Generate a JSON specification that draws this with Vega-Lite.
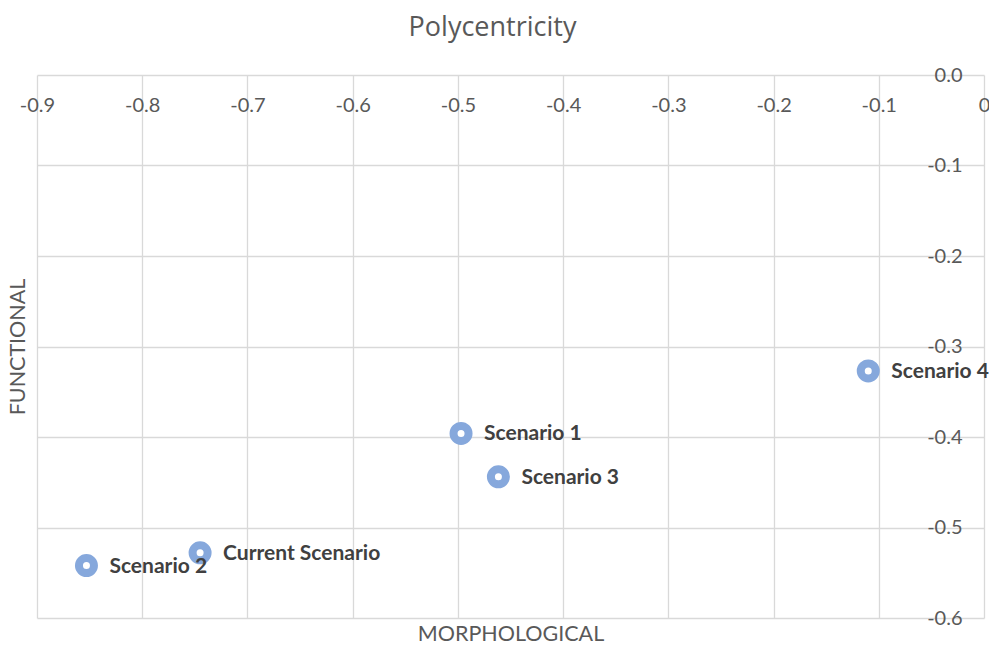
{
  "$schema": "https://vega.github.io/schema/vega-lite/v6.json",
  "autosize": {"type": "none"},
  "padding": {"left": 37, "top": 75, "right": 5, "bottom": 28},
  "width": 947,
  "height": 543,
  "background": "white",
  "config": {
    "view": {"stroke": null},
    "font": "Lato"
  },
  "title": {
    "text": "Polycentricity",
    "anchor": "middle",
    "dx": -18,
    "offset": 23,
    "fontSize": 27,
    "font": "Open Sans",
    "fontWeight": "normal",
    "color": "#595959"
  },
  "data": {
    "values": [
      {"name": "Current Scenario", "morph": -0.745, "func": -0.528},
      {"name": "Scenario 1", "morph": -0.497, "func": -0.396},
      {"name": "Scenario 2", "morph": -0.853, "func": -0.542},
      {"name": "Scenario 3", "morph": -0.4615, "func": -0.444},
      {"name": "Scenario 4", "morph": -0.110, "func": -0.327}
    ]
  },
  "layer": [
    {
      "mark": {"type": "point", "filled": false, "fill": "white", "fillOpacity": 1, "stroke": "#86a8dc", "strokeWidth": 8, "size": 225, "opacity": 1},
      "encoding": {
        "x": {
          "field": "morph", "type": "quantitative",
          "scale": {"domain": [-0.9, 0], "nice": false, "zero": false},
          "axis": {
            "orient": "bottom", "offset": -543, "grid": false, "domain": false, "ticks": false,
            "title": null, "values": [-0.9, -0.8, -0.7, -0.6, -0.5, -0.4, -0.3, -0.2, -0.1, 0],
            "labelExpr": "datum.value == 0 ? '0' : replace(format(datum.value, '.1f'), '\u2212', '-')",
            "labelPadding": 20, "labelFontSize": 20, "labelColor": "#595959", "labelFont": "Lato",
            "labelFlush": false, "labelOverlap": false
          }
        },
        "y": {
          "field": "func", "type": "quantitative",
          "scale": {"domain": [-0.6, 0], "nice": false, "zero": false},
          "axis": {
            "orient": "left", "offset": -947, "grid": false, "domain": false, "ticks": false,
            "title": null, "values": [-0.6, -0.5, -0.4, -0.3, -0.2, -0.1, 0],
            "labelExpr": "replace(format(datum.value, '.1f'), '\u2212', '-')",
            "labelPadding": 22, "labelFontSize": 20, "labelColor": "#595959", "labelFont": "Lato",
            "labelFlush": false, "labelOverlap": false
          }
        }
      }
    },
    {
      "mark": {"type": "text", "align": "left", "baseline": "middle", "dx": 23, "dy": 1, "fontSize": 21, "fontWeight": "bold", "font": "Lato", "color": "#404040"},
      "encoding": {
        "x": {
          "field": "morph", "type": "quantitative",
          "axis": {
            "orient": "bottom", "grid": true, "gridColor": "#d9d9d9", "gridWidth": 1.3, "gridOpacity": 1,
            "domain": false, "ticks": false, "labels": false,
            "values": [-0.9, -0.8, -0.7, -0.6, -0.5, -0.4, -0.3, -0.2, -0.1, 0],
            "title": "MORPHOLOGICAL", "titleFontSize": 21.5, "titleFont": "Lato", "titleFontWeight": "normal",
            "titleColor": "#595959", "titlePadding": 5
          }
        },
        "y": {
          "field": "func", "type": "quantitative",
          "axis": {
            "orient": "left", "grid": true, "gridColor": "#d9d9d9", "gridWidth": 1.3, "gridOpacity": 1,
            "domain": false, "ticks": false, "labels": false,
            "values": [-0.6, -0.5, -0.4, -0.3, -0.2, -0.1, 0],
            "title": "FUNCTIONAL", "titleFontSize": 21.5, "titleFont": "Lato", "titleFontWeight": "normal",
            "titleColor": "#595959", "titlePadding": 8
          }
        },
        "text": {"field": "name"}
      }
    }
  ],
  "resolve": {"axis": {"x": "independent", "y": "independent"}}
}
